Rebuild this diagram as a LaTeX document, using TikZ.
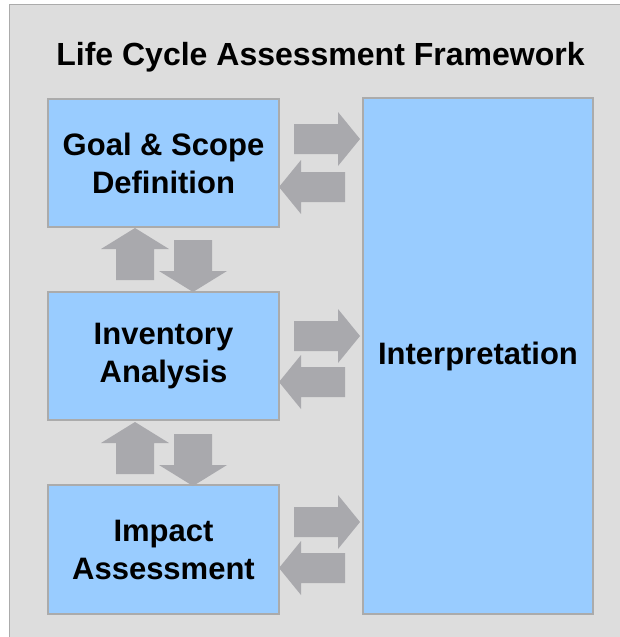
\documentclass[tikz,border=0pt]{standalone}
\usepackage{fontspec}
\setmainfont{Liberation Sans}
\usepackage{tikz}

\definecolor{panelgray}{HTML}{DDDDDD}
\definecolor{edgegray}{HTML}{ABABAB}
\definecolor{boxblue}{HTML}{99CCFF}
\definecolor{arrowgray}{HTML}{A9A9AD}

\newcommand{\rblock}[1]{\fill[arrowgray] #1 -- ++(-22,-27) -- ++(0,12) -- ++(-44,0) -- ++(0,30) -- ++(44,0) -- ++(0,12) -- cycle;}
\newcommand{\lblock}[1]{\fill[arrowgray] #1 -- ++(22,-27) -- ++(0,12) -- ++(44,0) -- ++(0,30) -- ++(-44,0) -- ++(0,12) -- cycle;}
\newcommand{\ublock}[1]{\fill[arrowgray] #1 -- ++(-34,21) -- ++(15,0) -- ++(0,31) -- ++(38,0) -- ++(0,-31) -- ++(15,0) -- cycle;}
\newcommand{\dblock}[1]{\fill[arrowgray] #1 -- ++(-34,-21) -- ++(15,0) -- ++(0,-31) -- ++(38,0) -- ++(0,31) -- ++(15,0) -- cycle;}

\begin{document}
\begin{tikzpicture}[x=1pt,y=-1pt,
  box/.style={draw=edgegray, fill=boxblue, line width=1.5pt, inner sep=0pt, align=center,
    font=\fontsize{31}{38}\selectfont\bfseries},
  titletext/.style={font=\fontsize{32}{38}\selectfont\bfseries}]
\useasboundingbox (0,0) rectangle (620,637);
\clip (0,0) rectangle (620,637);
\fill [white] (0,0) rectangle (620,637);
\draw [fill=panelgray, draw=edgegray, line width=1.5pt] (9.5,4.5) rectangle (640,660);
\node [titletext, anchor=base] (title) at (320.5,65) {Life Cycle Assessment Framework};

% stages on the left, interpretation on the right
\node [box, minimum width=231pt, minimum height=128pt] (goal) at (163.5,163) {Goal \& Scope\\Definition};
\node [box, minimum width=231pt, minimum height=128pt] (inventory) at (163.5,356) {Inventory\\Analysis};
\node [box, minimum width=231pt, minimum height=129pt] (impact) at (163.5,549.5) {Impact\\Assessment};
\node [box, minimum width=230pt, minimum height=516pt] (interp) at (478,356) {Interpretation};

% arrows to and from interpretation
\rblock{(360,139)}
\lblock{(279,187)}
\rblock{(360,336)}
\lblock{(279,382)}
\rblock{(360,522)}
\lblock{(279,568)}

% arrows between the stages
\ublock{(135,228)}
\dblock{(193,292)}
\ublock{(135,422)}
\dblock{(193,486)}
\end{tikzpicture}
\end{document}
